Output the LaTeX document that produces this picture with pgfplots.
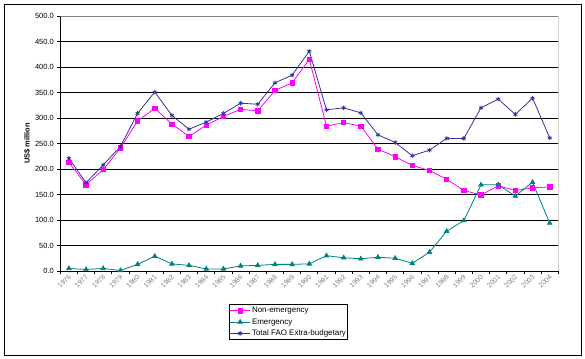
\documentclass[border=0pt]{standalone}
\usepackage{fontspec}
\setmainfont{Liberation Sans}
\usepackage{pgfplots}
\pgfplotsset{compat=1.18}
\definecolor{nonem}{HTML}{FF00FF}
\definecolor{emer}{HTML}{008080}
\definecolor{total}{HTML}{333399}
\pgfplotstableread{
x nonem em total
0 213 5 221
1 169 3 173
2 199 5 208
3 241 1 244
4 294 13 309
5 319 29 351
6 288 14 305
7 264 11 278
8 286 4 292
9 303 4 309
10 317 10 329
11 314 11 327
12 354 13 369
13 369 13 384
14 415 14 431
15 284 30 316
16 291 26 320
17 284 24 310
18 239 27 267
19 224 25 252
20 207 15 226
21 197 37 237
22 180 78 260
23 158 99 260
24 149 169 320
25 167 169 337
26 158 147 307
27 163 174 339
28 165 94 261
}\datatable
\begin{document}
\begin{tikzpicture}
\useasboundingbox (0,0) rectangle (585bp,359bp);
\draw[line width=1bp] (4.5bp,3.5bp) rectangle (581.5bp,354.5bp);
\begin{axis}[
  at={(60.3bp,88bp)}, anchor=south west,
  scale only axis, width=498bp, height=255bp,
  xmin=-0.5, xmax=28.5, ymin=0, ymax=500,
  axis x line*=bottom, axis y line*=left,
  axis line style={black, line width=0.8bp, -},
  ytick={0,50,...,500},
  ymajorgrids, grid style={black, line width=0.8bp},
  xtick={0,...,28},
  xticklabels={1976,1977,1978,1979,1980,1981,1982,1983,1984,1985,1986,1987,1988,1989,1990,1991,1992,1993,1994,1995,1996,1997,1998,1999,2000,2001,2002,2003,2004},
  minor xtick={-0.5,0.5,...,28.5},
  major x tick style={draw=none},
  minor x tick style={black, line width=0.8bp},
  y tick style={black, line width=0.8bp},
  tick align=outside, major tick length=3bp, minor tick length=3bp,
  yticklabel style={font=\fontsize{7.5}{9}\selectfont, /pgf/number format/.cd, fixed, fixed zerofill, precision=1, assume math mode=true},
  xticklabel style={font=\fontsize{7}{8}\selectfont, text=gray, rotate=45, anchor=east, inner sep=0.5bp, yshift=-2bp},
  ylabel={\bfseries US\$ million},
  ylabel style={font=\fontsize{7.5}{9}\selectfont, yshift=-2bp},
  legend cell align=left,
  legend style={at={(0.3394,-0.1306)}, anchor=north west, draw=black, line width=0.8bp,
    font=\fontsize{8}{9.5}\selectfont, inner xsep=0bp, inner ysep=1.5bp,
    row sep=1.8bp,
    nodes={inner xsep=1.5bp, inner ysep=1.2bp}},
  legend image code/.code={\draw[mark repeat=2,mark phase=2] plot coordinates {(0bp,0bp) (10bp,0bp) (20bp,0bp)};},
]
\addplot[nonem, line width=0.8bp, mark=square*, mark size=2.2bp, mark options={solid}] table[x=x,y=nonem] {\datatable};
\addlegendentry{Non-emergency}
\addplot[emer, line width=0.8bp, mark=triangle*, mark size=2.5bp, mark options={solid}] table[x=x,y=em] {\datatable};
\addlegendentry{Emergency}
\addplot[total, line width=0.8bp, mark=asterisk, mark size=2.3bp, mark options={solid}] table[x=x,y=total] {\datatable};
\addlegendentry{Total FAO Extra-budgetary}
\draw[gray, line width=0.9bp] (rel axis cs:0,1) -- (rel axis cs:1,1) -- (rel axis cs:1,0);
\end{axis}
\end{tikzpicture}
\end{document}
